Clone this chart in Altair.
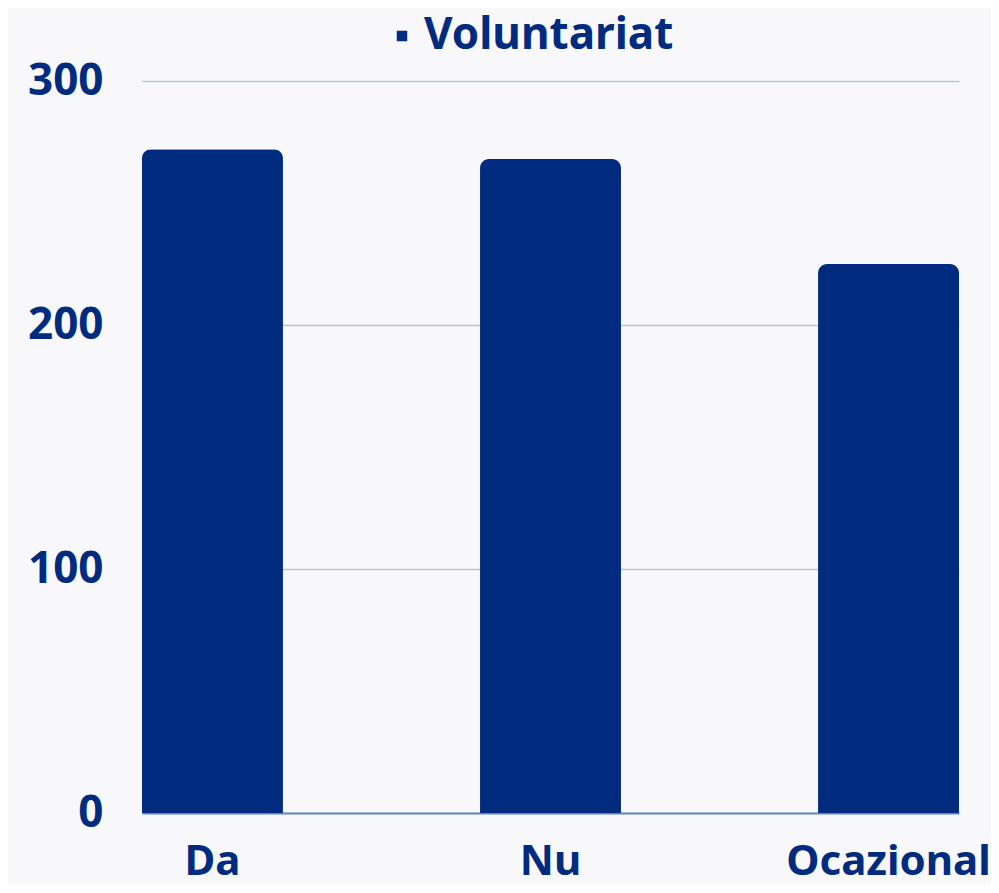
import altair as alt
import pandas as pd

categories = ["Da", "Nu", "Ocazional"]
values = [272, 268, 225]
series = ["Voluntariat"] * 3

df = pd.DataFrame({"cat": categories, "val": values, "series": series})

BLUE = "#012B7F"
FONT = "Noto Sans"

chart = alt.Chart(df).mark_bar(
    cornerRadiusTopLeft=9, cornerRadiusTopRight=9
).encode(
    x=alt.X("cat:N", sort=categories, title=None,
            scale=alt.Scale(paddingInner=0.583, paddingOuter=0),
            axis=alt.Axis(labelAngle=0, ticks=False, labelPadding=70, labelLimit=0,
                          labelBaseline="bottom",
                          labelFont=FONT, labelFontSize=42, labelFontWeight="bold",
                          labelColor=BLUE, domainColor="#6a86b8", domainWidth=2,
                          grid=False)),
    y=alt.Y("val:Q", title=None,
            scale=alt.Scale(domain=[0, 300], nice=False),
            axis=alt.Axis(values=[0, 100, 200, 300], ticks=False, domain=False,
                          labelPadding=39, labelLimit=0, labelFont=FONT, labelFontSize=44,
                          labelFontWeight="bold", labelColor=BLUE,
                          gridColor="#b7c3dc", gridWidth=1.5)),
    color=alt.Color("series:N", title=None,
                    scale=alt.Scale(range=[BLUE]),
                    legend=alt.Legend(orient="none", legendX=238, legendY=-67,
                                      symbolType="square", symbolSize=110,
                                      symbolStrokeWidth=0, labelLimit=0,
                                      labelFont=FONT, labelFontSize=44,
                                      labelFontWeight="bold", labelColor=BLUE,
                                      labelOffset=0)),
).properties(
    width=817, height=732,
    padding={"left": 134, "top": 73, "right": 32, "bottom": 72},
    autosize=alt.AutoSizeParams(type="none"),
    background="#f8f8fa",
).configure_view(stroke=None)

chart.save("out.html", embed_options={"renderer": "svg", "actions": False})
